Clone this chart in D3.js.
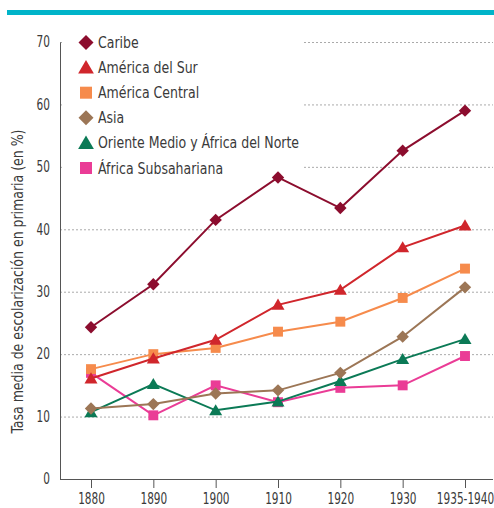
<!DOCTYPE html>
<html>
<head>
<meta charset="utf-8">
<script src="https://cdn.jsdelivr.net/npm/d3@7"></script>
<style>
  html, body { margin: 0; padding: 0; background: #fff; }
  svg { display: block; }
  text { font-family: "DejaVu Sans Condensed", "Roboto", sans-serif; fill: #3a3a3a; }
</style>
</head>
<body>
<svg id="chart" width="494" height="508"></svg>
<script>
// Decades on the horizontal axis
const years = ["1880", "1890", "1900", "1910", "1920", "1930", "1935-1940"];

// Average primary enrolment rate (%) per region
const caribe       = [24.3, 31.2, 41.5, 48.3, 43.4, 52.6, 59.0];
const americaSur   = [16.1, 19.3, 22.3, 27.9, 30.3, 37.1, 40.6];
const americaCent  = [17.6, 20.0, 21.0, 23.6, 25.2, 29.0, 33.7];
const asia         = [11.3, 12.0, 13.7, 14.2, 17.0, 22.8, 30.7];
const orienteMedio = [10.7, 15.2, 11.0, 12.4, 15.7, 19.2, 22.4];
const subsahariana = [17.0, 10.2, 15.0, 12.3, 14.6, 15.0, 19.7];

const yTicks = [0, 10, 20, 30, 40, 50, 60, 70];

const series = [
  { name: "Caribe", values: caribe, color: "#8c0d2e", shape: "diamond" },
  { name: "América del Sur", values: americaSur, color: "#d0262c", shape: "triangle" },
  { name: "América Central", values: americaCent, color: "#f68b4c", shape: "square" },
  { name: "Asia", values: asia, color: "#9c7656", shape: "diamond" },
  { name: "Oriente Medio y África del Norte", values: orienteMedio, color: "#0b7a56", shape: "triangle" },
  { name: "África Subsahariana", values: subsahariana, color: "#ea3c96", shape: "square" }
];

const svg = d3.select("#chart");
const plotLeft = 60, plotRight = 493, plotTop = 42, plotBottom = 479;
// narrow lettering: horizontal squeeze applied to labels
const tickSqueeze = 0.78, textSqueeze = 0.87;

const x = d3.scalePoint().domain(years).range([91, 465]);
const y = d3.scaleLinear().domain([0, 70]).range([plotBottom, plotTop]);

// Accent band across the top
svg.append("rect").attr("x", 7).attr("y", 10).attr("width", 487).attr("height", 5).attr("fill", "#00b4c9");

// Dotted horizontal grid
svg.append("g").selectAll("line").data(yTicks.filter(d => d > 0)).join("line")
  .attr("x1", plotLeft).attr("x2", plotRight)
  .attr("y1", d => y(d) + 0.5).attr("y2", d => y(d) + 0.5)
  .attr("stroke", "#aaaaaa").attr("stroke-width", 1).attr("stroke-dasharray", "2,2");

// Y axis
const yAxis = svg.append("g").attr("transform", `translate(${plotLeft},0)`)
  .call(d3.axisLeft(y).tickValues(yTicks).tickSize(0).tickPadding(10));
yAxis.select(".domain").attr("stroke", "#555").attr("stroke-width", 1);
yAxis.selectAll("text").attr("font-size", 15).style("font-family", null)
  .attr("x", -10 / tickSqueeze).attr("transform", `scale(${tickSqueeze},1)`);

// X axis
const xAxis = svg.append("g").attr("transform", `translate(0,${plotBottom})`)
  .call(d3.axisBottom(x).tickSize(9).tickPadding(5));
xAxis.select(".domain").attr("d", `M${plotLeft},0.5H${plotRight}`).attr("stroke", "#555");
xAxis.selectAll(".tick line").attr("stroke", "#555");
xAxis.selectAll("text").attr("font-size", 15).style("font-family", null)
  .attr("transform", `scale(${tickSqueeze},1)`);

// Axis title
svg.append("text")
  .attr("transform", `translate(23,${(plotTop + plotBottom) / 2 + 21}) rotate(-90) scale(${textSqueeze},1)`)
  .attr("text-anchor", "middle").attr("font-size", 16)
  .text("Tasa media de escolarización en primaria (en %)");

// Marker paths
function markerPath(shape, s) {
  if (shape === "diamond") return `M0,${-s}L${s},0L0,${s}L${-s},0Z`;
  if (shape === "triangle") return `M0,${-s}L${s * 1.05},${s * 0.8}L${-s * 1.05},${s * 0.8}Z`;
  return `M${-s * 0.8},${-s * 0.8}H${s * 0.8}V${s * 0.8}H${-s * 0.8}Z`;
}

// Legend with a white panel over the grid
const legend = svg.append("g");
legend.append("rect").attr("x", 64).attr("y", 30).attr("width", 238).attr("height", 150).attr("fill", "#fff");
series.forEach((s, i) => {
  const cy = 42.5 + i * 25.1;
  legend.append("path").attr("d", markerPath(s.shape, 7.5))
    .attr("transform", `translate(86,${cy})`).attr("fill", s.color);
  legend.append("text").attr("transform", `translate(98,${cy + 5.5}) scale(${textSqueeze},1)`)
    .attr("font-size", 16).text(s.name);
});

// Lines and markers, last series drawn first
const line = d3.line().x((d, i) => x(years[i])).y(d => y(d));
const plot = svg.append("g");
series.slice().reverse().forEach(s => {
  plot.append("path").attr("d", line(s.values)).attr("fill", "none")
    .attr("stroke", s.color).attr("stroke-width", 2);
  plot.selectAll(null).data(s.values).join("path")
    .attr("d", markerPath(s.shape, 6.2))
    .attr("transform", (d, i) => `translate(${x(years[i])},${y(d)})`)
    .attr("fill", s.color);
});
</script>
</body>
</html>
